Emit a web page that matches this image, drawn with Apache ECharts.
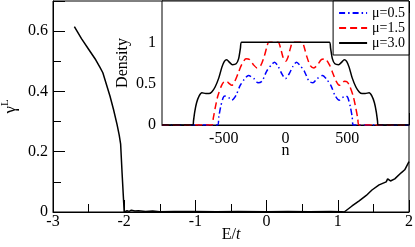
<!DOCTYPE html>
<html>
<head>
<meta charset="utf-8">
<script src="https://cdn.jsdelivr.net/npm/echarts@6.0.0/dist/echarts.min.js"></script>
<style>html,body{margin:0;padding:0;background:#fff}#c{width:415px;height:247px}</style>
</head>
<body>
<div id="c"></div>
<script>
// ---- main panel: gamma^L vs E/t ----
var energy = [-2.7,-2.6,-2.5,-2.4,-2.34,-2.3,-2.2,-2.15,-2.1,-2.07,-2.05,-2.03,-2.0,-1.96,-1.93,-1.9,-1.85,-1.8,-1.7,-1.6,-1.5,-1.3,-1.0,-0.7,-0.4,0,0.3,0.6,0.9,1.05,1.09,1.2,1.3,1.4,1.48,1.58,1.68,1.7,1.74,1.8,1.89,1.94,2.0];
var gammaL = [0.615,0.575,0.54,0.505,0.48,0.462,0.385,0.34,0.29,0.255,0.225,0.13,0,0.004,0.002,0.006,0.003,0.004,0.002,0.003,0.001,0.002,0.002,0.001,0.002,0.001,0.002,0.001,0.002,0.001,0.0,0.02,0.037,0.055,0.073,0.09,0.1,0.11,0.103,0.11,0.13,0.14,0.167];

// ---- inset: density vs n ----
var nBlue = [-1000,-550,-540,-525,-505,-490,-460,-435,-400,-370,-335,-300,-255,-222,-190,-153,-113,-89,-60,-30,0,30,60,89,113,153,190,222,255,300,335,370,400,435,460,490,505,525,540,550,1000];
var densBlue = [0,0,0.10,0.22,0.33,0.35,0.33,0.30,0.36,0.47,0.55,0.60,0.56,0.51,0.53,0.65,0.73,0.76,0.71,0.62,0.56,0.62,0.71,0.76,0.73,0.65,0.53,0.51,0.56,0.60,0.55,0.47,0.36,0.30,0.33,0.35,0.33,0.22,0.10,0,0];

var nRed = [-1000,-597,-585,-570,-548,-520,-500,-478,-455,-435,-410,-385,-355,-320,-290,-260,-230,-200,-170,-150,-135,-60,-40,-20,0,20,40,60,135,150,170,200,230,260,290,320,355,385,410,435,455,478,500,520,548,570,585,597,1000];
var densRed = [0,0,0.08,0.20,0.35,0.47,0.52,0.53,0.50,0.48,0.53,0.62,0.73,0.80,0.79,0.73,0.69,0.72,0.84,0.95,1.0,1.0,0.93,0.82,0.77,0.82,0.93,1.0,1.0,0.95,0.84,0.72,0.69,0.73,0.79,0.80,0.73,0.62,0.53,0.48,0.50,0.53,0.52,0.47,0.35,0.20,0.08,0,0];

var nBlack = [-1000,-750,-745,-735,-720,-700,-677,-645,-620,-597,-570,-540,-515,-495,-476,-455,-430,-400,-380,-365,-355,355,365,380,400,430,455,476,495,515,540,570,597,620,645,677,700,720,735,745,750,1000];
var densBlack = [0,0,0.05,0.16,0.27,0.35,0.39,0.38,0.38,0.40,0.46,0.57,0.70,0.77,0.79,0.76,0.73,0.74,0.80,0.93,1.0,1.0,0.93,0.80,0.74,0.73,0.76,0.79,0.77,0.70,0.57,0.46,0.40,0.38,0.38,0.39,0.35,0.27,0.16,0.05,0,0];

var seriesNames = ['\u03bc=0.5','\u03bc=1.5','\u03bc=3.0'];
var mainXTicks = [-3,-2,-1,0,1,2];
var mainYTicks = [0,0.2,0.4,0.6];
var insetXTicks = [-500,0,500];
var insetYTicks = [0,0.5,1];

function pairs(xs, ys){ return xs.map(function(x,i){ return [x, ys[i]]; }); }

var FONT = 'Liberation Serif';
var black = '#000';
var clear = 'rgba(0,0,0,0)';

function tickFmt(list){
  return function(v){
    for (var i=0;i<list.length;i++){ if (Math.abs(list[i]-v) < 1e-9) return String(list[i]); }
    return '';
  };
}

var chart = echarts.init(document.getElementById('c'), null, {renderer:'canvas'});
chart.setOption({
  animation: false,
  backgroundColor: '#fff',
  textStyle: {fontFamily: FONT, color: black},
  grid: [
    {left:53, right:6, top:1, bottom:35, show:true, borderColor:black, borderWidth:1, backgroundColor:'#fff', containLabel:false, outerBoundsMode:'none'},
    {left:162, right:6, top:1, bottom:122, show:true, borderColor:black, borderWidth:1, backgroundColor:'#fff', containLabel:false, outerBoundsMode:'none', z:5}
  ],
  legend: {
    data: seriesNames,
    right: 6, top: 1,
    orient: 'vertical',
    backgroundColor: '#fff',
    borderColor: black, borderWidth: 1, borderRadius: 0,
    padding: [5,4,5,5],
    itemGap: 1, itemWidth: 28, itemHeight: 14,
    itemStyle: {color: clear, borderColor: clear, borderWidth: 0, opacity: 0},
    textStyle: {fontFamily: FONT, fontSize: 14, color: black, padding:[0,0,0,0]},
    z: 20
  },
  xAxis: [
    {gridIndex:0, type:'value', min:-3, max:2, interval:1,
     axisLine:{show:true, onZero:false, lineStyle:{color:black}},
     axisTick:{show:true, inside:true, length:12, lineStyle:{color:black}},
     minorTick:{show:true, splitNumber:2, length:8, lineStyle:{color:black}},
     splitLine:{show:false}, minorSplitLine:{show:false},
     axisLabel:{fontFamily:FONT, fontSize:16, color:black, margin:2, formatter: tickFmt(mainXTicks)},
     name:'{a|E/}{b|t}', nameLocation:'middle', nameGap:15, nameMoveOverlap:false,
     nameTextStyle:{rich:{a:{fontFamily:FONT,fontSize:16,color:black}, b:{fontFamily:FONT,fontSize:16,fontStyle:'italic',color:black}}}
    },
    {gridIndex:1, type:'value', min:-1000, max:1000, interval:500,
     axisLine:{show:true, onZero:false, lineStyle:{color:black}},
     axisTick:{show:true, inside:true, length:12, lineStyle:{color:black}},
     minorTick:{show:true, splitNumber:2, length:8, lineStyle:{color:black}},
     splitLine:{show:false}, minorSplitLine:{show:false},
     axisLabel:{fontFamily:FONT, fontSize:16, color:black, margin:6, formatter: tickFmt(insetXTicks)},
     name:'n', nameLocation:'middle', nameGap:18, nameMoveOverlap:false,
     nameTextStyle:{fontFamily:FONT, fontSize:16, color:black}
    },
    {gridIndex:1, type:'value', position:'top', min:-1000, max:1000, interval:500,
     axisLine:{show:false, onZero:false},
     axisTick:{show:true, inside:true, length:12, lineStyle:{color:black}},
     minorTick:{show:true, splitNumber:2, length:8, lineStyle:{color:black}},
     splitLine:{show:false}, axisLabel:{show:false}
    }
  ],
  yAxis: [
    {gridIndex:0, type:'value', position:'left', min:0, max:0.7, interval:0.2,
     axisLine:{show:true, onZero:false, lineStyle:{color:black}},
     axisTick:{show:true, inside:true, length:12, lineStyle:{color:black}},
     minorTick:{show:false},
     splitLine:{show:false},
     axisLabel:{fontFamily:FONT, fontSize:16, color:black, margin:5, formatter: tickFmt(mainYTicks)},
     name:'{g|\u03b3}{s|L}', nameLocation:'middle', nameRotate:90, nameGap:32, nameMoveOverlap:false,
     nameTextStyle:{rich:{g:{fontFamily:FONT,fontSize:17,color:black}, s:{fontFamily:FONT,fontSize:11,color:black, verticalAlign:'top', padding:[0,0,10,0]}}}
    },
    {gridIndex:0, type:'value', position:'left', min:0, max:0.7, interval:0.1,
     axisLine:{show:false, onZero:false},
     axisTick:{show:true, inside:true, length:8, lineStyle:{color:black}},
     splitLine:{show:false}, axisLabel:{show:false}
    },
    {gridIndex:1, type:'value', position:'left', min:0, max:1.5, interval:0.5,
     axisLine:{show:true, onZero:false, lineStyle:{color:black}},
     axisTick:{show:true, inside:true, length:12, lineStyle:{color:black}},
     minorTick:{show:true, splitNumber:2, length:8, lineStyle:{color:black}},
     splitLine:{show:false}, minorSplitLine:{show:false},
     axisLabel:{fontFamily:FONT, fontSize:16, color:black, margin:6, formatter: tickFmt(insetYTicks)},
     name:'Density', nameLocation:'middle', nameRotate:90, nameGap:31, nameMoveOverlap:false,
     nameTextStyle:{fontFamily:FONT, fontSize:16, color:black}
    },
    {gridIndex:1, type:'value', position:'right', min:0, max:1.5, interval:0.5,
     axisLine:{show:false, onZero:false},
     axisTick:{show:true, inside:true, length:12, lineStyle:{color:black}},
     minorTick:{show:true, splitNumber:2, length:8, lineStyle:{color:black}},
     splitLine:{show:false}, axisLabel:{show:false}
    }
  ],
  series: [
    {type:'line', xAxisIndex:0, yAxisIndex:0, data:pairs(energy, gammaL), symbol:'none', showSymbol:false,
     lineStyle:{color:black, width:1.5}, itemStyle:{color:black}, silent:true},
    {name:seriesNames[0], type:'line', xAxisIndex:1, yAxisIndex:2, data:pairs(nBlue, densBlue), symbol:'none', showSymbol:false, smooth:0.25,
     lineStyle:{color:'#0000ff', width:1.5, type:[6,3,1.5,3]}, itemStyle:{color:'#0000ff'}, z:6},
    {name:seriesNames[1], type:'line', xAxisIndex:1, yAxisIndex:2, data:pairs(nRed, densRed), symbol:'none', showSymbol:false, smooth:0.25,
     lineStyle:{color:'#ff0000', width:1.5, type:[7,4]}, itemStyle:{color:'#ff0000'}, z:6},
    {name:seriesNames[2], type:'line', xAxisIndex:1, yAxisIndex:2, data:pairs(nBlack, densBlack), symbol:'none', showSymbol:false, smooth:0.25,
     lineStyle:{color:black, width:1.5}, itemStyle:{color:black}, z:7}
  ]
});
</script>
</body>
</html>
